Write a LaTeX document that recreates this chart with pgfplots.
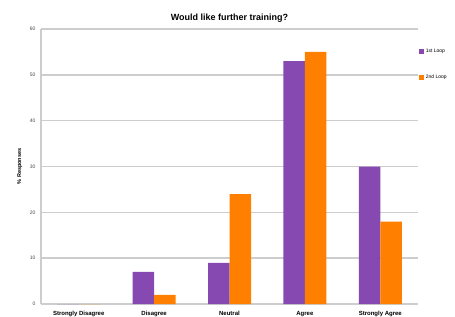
\documentclass[border=0pt]{standalone}
\usepackage{fontspec}
\setmainfont{Liberation Sans}
\usepackage{pgfplots}
\pgfplotsset{compat=1.18}
\definecolor{purp}{RGB}{133,73,177}
\definecolor{orng}{RGB}{255,128,0}
\definecolor{gridg}{RGB}{205,205,205}
\definecolor{tickg}{RGB}{70,70,70}
\begin{document}
\begin{tikzpicture}[x=1pt,y=1pt]
\useasboundingbox (0,0) rectangle (455,316);
\clip (0,0) rectangle (455,316);
\begin{axis}[
  at={(41pt,12pt)}, anchor=south west,
  scale only axis, width=377pt, height=275pt,
  xmin=-0.5, xmax=4.5, ymin=0, ymax=60,
  ytick={0,10,...,60},
  xtick={0,1,2,3,4},
  xticklabels={Strongly Disagree,Disagree,Neutral,Agree,Strongly Agree},
  axis x line=bottom, axis y line=left,
  axis line style={draw=gridg, line width=1.8pt, -},
  ymajorgrids, grid style={draw=gridg, line width=1.4pt},
  major tick length=0pt,
  /pgf/number format/assume math mode=true,
  yticklabel style={font=\fontsize{5}{6}\selectfont, text=tickg, xshift=-2pt},
  xticklabel style={font=\bfseries\fontsize{6}{7}\selectfont, yshift=-3.8pt},
  title={Would like further training?},
  title style={font=\bfseries\fontsize{9}{11}\selectfont, yshift=-3pt},
  ylabel={\% Responses},
  ylabel style={font=\bfseries\fontsize{5.5}{6.5}\selectfont, at={(axis description cs:-0.056,0.5)}, anchor=center},
  ybar=0pt, bar width=21.5pt,
  legend style={at={(axis description cs:1.003,0.935)}, anchor=north west, draw=none, fill=none,
    font=\fontsize{5}{6}\selectfont, row sep=17pt, inner sep=0pt},
  legend cell align=left,
  legend image code/.code={\fill[#1] (0pt,-2pt) rectangle (4.5pt,2.5pt);},
]
\addplot[fill=purp, draw=none] coordinates {(0,0) (1,7) (2,9) (3,53) (4,30)};
\addplot[fill=orng, draw=none] coordinates {(0,0) (1,2) (2,24) (3,55) (4,18)};
\legend{1st Loop,2nd Loop}
\end{axis}
\end{tikzpicture}
\end{document}
